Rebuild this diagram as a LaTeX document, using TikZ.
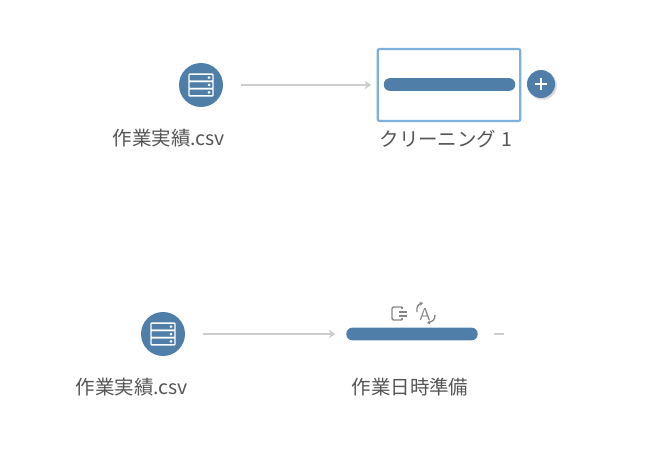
\documentclass[tikz,border=0pt]{standalone}
\usepackage{fontspec}
\setmainfont{Noto Sans CJK JP}
\usetikzlibrary{arrows.meta,shadows}
\definecolor{stepblue}{HTML}{4F7FA8}
\definecolor{selblue}{HTML}{7DB0DC}
\definecolor{linkgray}{HTML}{CDCDCD}
\definecolor{textgray}{HTML}{555555}
\definecolor{icongray}{HTML}{858585}
\tikzset{
    srccircle/.style={circle, fill=stepblue, inner sep=0pt, minimum size=33pt},
    stepbar/.style={rectangle, rounded corners=4.5pt, fill=stepblue, inner sep=0pt, minimum width=98.5pt, minimum height=9.5pt},
    selbox/.style={rectangle, rounded corners=1.5pt, draw=selblue, line width=1.7pt, fill=white, inner sep=0pt, minimum width=107pt, minimum height=54pt},
    plusbtn/.style={circle, fill=stepblue, inner sep=0pt, minimum size=21pt, circular drop shadow={shadow xshift=.8pt, shadow yshift=-.8pt, opacity=.35, shadow scale=1.08}},
    lbl/.style={text=textgray, font=\fontsize{14.6pt}{16pt}\selectfont, inner sep=0pt},
    link/.style={draw=linkgray, line width=2pt, -{Stealth[length=5pt,width=6.5pt]}},
    dbicon/.pic={
        \foreach \r in {-7.3,0,7.3}{
            \draw[white, line width=1.1pt, rounded corners=.6pt] (-12,\r-3.65) rectangle (12,\r+3.65);
            \fill[white] (8,\r) circle (1.5);
        }
    }
}
\begin{document}
\begin{tikzpicture}[x=.75pt, y=-.75pt]
    \useasboundingbox (0,0) rectangle (657,460);
    % upper flow
    \node [srccircle] (src1) at (201,85) {};
    \pic at (src1) {dbicon};
    \node [lbl] (src1lbl) at (169,138) {作業実績.csv};
    \node [selbox] (clean1) at (449,85) {};
    \node [stepbar] (bar1) at (449.5,84.5) {};
    \node [lbl] (clean1lbl) at (446,139) {クリーニング\hspace{4pt}1};
    \node [plusbtn] (plus1) at (541,84) {};
    \draw [white, line width=1pt] (535,84) -- (547,84) (541,78) -- (541,90);
    \draw [link, shorten <=13.5pt, shorten >=4pt] (src1) -- (clean1);

    % lower flow
    \node [srccircle] (src2) at (163,334) {};
    \pic at (src2) {dbicon};
    \node [lbl] (src2lbl) at (132,387) {作業実績.csv};
    \node [stepbar] (bar2) at (412,334) {};
    \node [lbl] (bar2lbl) at (410,387) {作業日時準備};
    \draw [link, shorten <=13.5pt, shorten >=8pt] (src2) -- (bar2);
    \coordinate (dash1) at (494,334);
    \coordinate (dash2) at (504,334);
    \draw [linkgray, line width=2pt] (dash1) -- (dash2);

    % step icons
    \draw [icongray, line width=1pt, rounded corners=1pt] (402,307) -- (392,307) -- (392,320) -- (402,320);
    \draw [icongray, line width=1pt] (402,307) -- (402,309) (402,318) -- (402,320) (399,312) -- (407,312) (399,316) -- (407,316);
    \node [text=icongray, font=\sffamily\fontsize{13pt}{14pt}\selectfont, inner sep=0pt] (renameA) at (425,314) {A};
    \draw [icongray, line width=1pt, -{Stealth[length=2.5pt,width=3pt]}] (417,312) .. controls (416,306) and (419,304) .. (423,303);
    \draw [icongray, line width=1pt, -{Stealth[length=2.5pt,width=3pt]}] (435,315) .. controls (435,320) and (432,322) .. (427,323);
\end{tikzpicture}
\end{document}
